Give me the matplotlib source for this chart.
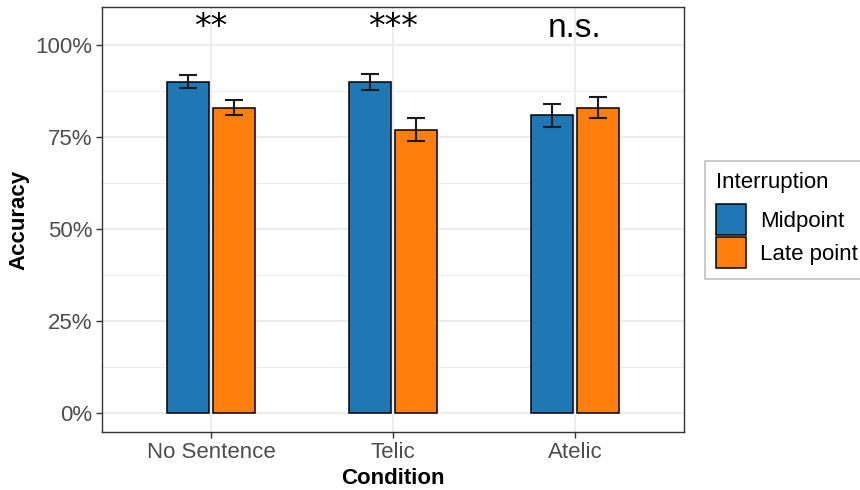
import matplotlib
matplotlib.use("Agg")
import matplotlib.pyplot as plt
import matplotlib.patches as mpatches
from matplotlib.ticker import FuncFormatter, MultipleLocator
import numpy as np

plt.rcParams['font.family'] = ['Liberation Sans', 'DejaVu Sans']

# ---- data ----
conditions = ["No Sentence", "Telic", "Atelic"]
series = ["Midpoint", "Late point"]
midpoint_acc = [0.898, 0.898, 0.809]
midpoint_lo = [0.882, 0.876, 0.777]
midpoint_hi = [0.917, 0.921, 0.840]
late_acc = [0.829, 0.769, 0.829]
late_lo = [0.808, 0.738, 0.800]
late_hi = [0.850, 0.802, 0.858]
annotations = ["**", "***", "n.s."]

colors = ["#1F77B4", "#FF7F0E"]

W, H = 860, 490
fig = plt.figure(figsize=(W / 100, H / 100), dpi=100)
ax = fig.add_axes([102 / W, 1 - 432 / H, 582 / W, 425 / H])

x = np.arange(len(conditions))
bw = 0.23
off = 0.126
vals = [midpoint_acc, late_acc]
los = [midpoint_lo, late_lo]
his = [midpoint_hi, late_hi]
for i, (v, lo, hi) in enumerate(zip(vals, los, his)):
    pos = x + (-off if i == 0 else off)
    v = np.array(v); lo = np.array(lo); hi = np.array(hi)
    ax.bar(pos, v, width=bw, color=colors[i], edgecolor="black", linewidth=1.1,
           zorder=3, label=series[i])
    ax.errorbar(pos, v, yerr=[v - lo, hi - v], fmt="none", ecolor="#1a1a1a",
                elinewidth=1.5, capsize=6.5, capthick=1.5, zorder=4)

for xi, txt in zip(x, annotations):
    if "*" in txt:
        ax.text(xi, 1.022, txt, ha="center", va="baseline", fontsize=24,
                family="DejaVu Sans", color="black", zorder=5)
    else:
        ax.text(xi, 1.022, txt, ha="center", va="baseline", fontsize=24,
                color="black", zorder=5)

ax.set_xlim(-0.6, 2.6)
ax.set_ylim(-0.0525, 1.1025)
ax.set_xticks(x)
ax.set_xticklabels(conditions)
ax.yaxis.set_major_locator(MultipleLocator(0.25))
ax.yaxis.set_minor_locator(MultipleLocator(0.125))
ax.yaxis.set_major_formatter(FuncFormatter(lambda v, p: f"{v*100:.0f}%"))

ax.grid(True, which="major", color="#EBEBEB", linewidth=1.3, zorder=0)
ax.grid(True, which="minor", axis="y", color="#EBEBEB", linewidth=0.7, zorder=0)
ax.set_axisbelow(True)

for s in ax.spines.values():
    s.set_color("#333333")
    s.set_linewidth(1.0)

ax.tick_params(axis="both", which="major", length=4.5, width=1.0, color="#333333",
               labelsize=16, labelcolor="#4D4D4D", pad=2.5)
ax.tick_params(axis="y", which="minor", length=0)

ax.set_xlabel("Condition", fontsize=16, fontweight="bold", labelpad=3.5)
ax.set_ylabel("Accuracy", fontsize=16, fontweight="bold", labelpad=4)

handles = [mpatches.Patch(facecolor=colors[i], edgecolor="black", linewidth=1.1,
                          label=series[i]) for i in range(2)]
leg = fig.legend(handles=handles, title="Interruption", loc="upper left",
                 bbox_to_anchor=(705 / W, 1 - 161 / H), fontsize=16,
                 title_fontsize=16, frameon=True, fancybox=False,
                 handlelength=1.36, handleheight=1.78, labelspacing=0.08,
                 handletextpad=0.6, borderpad=0.5, borderaxespad=0,
                 alignment="left")
leg._legend_box.sep = 8
leg.get_frame().set_edgecolor("#B3B3B3")
leg.get_frame().set_linewidth(1.2)

fig.savefig("out.png", dpi=100)
